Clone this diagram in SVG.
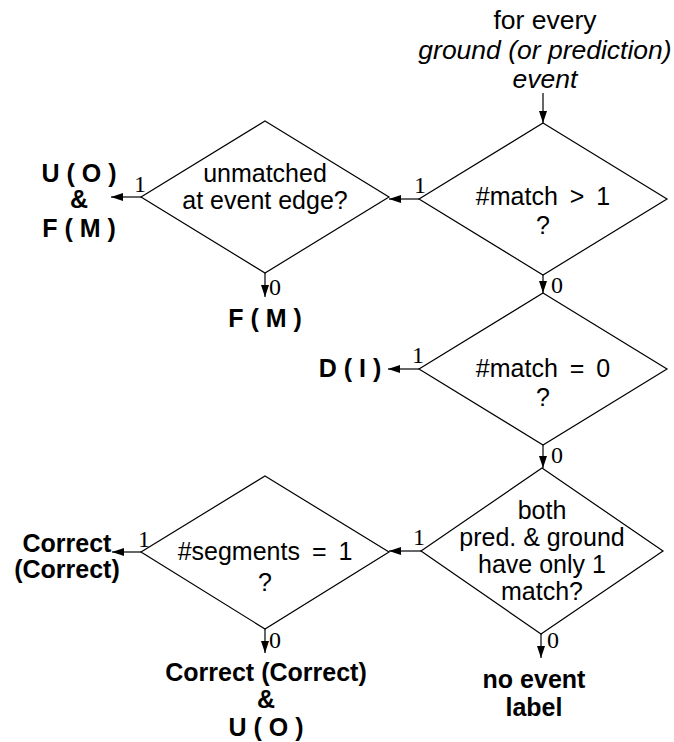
<svg xmlns="http://www.w3.org/2000/svg" width="674" height="742" viewBox="0 0 674 742">
  <style>
    .shape { fill: #fff; stroke: #000; stroke-width: 1.2; }
    .q { font-family: "Liberation Sans", Arial, sans-serif; font-size: 25px; text-anchor: middle; fill: #000; }
    .wide { word-spacing: 5px; }
    .out { font-family: "Liberation Sans", Arial, sans-serif; font-size: 25px; font-weight: bold; text-anchor: middle; fill: #000; }
    .head { font-family: "Liberation Sans", Arial, sans-serif; font-size: 26.5px; text-anchor: middle; fill: #000; }
    .bit { font-family: "Liberation Serif", "Times New Roman", serif; font-size: 24px; text-anchor: middle; fill: #000; }
    .edge { stroke: #000; stroke-width: 1.2; fill: none; marker-end: url(#tip); }
  </style>
  <defs>
    <marker id="tip" viewBox="0 0 12 8" refX="12" refY="4" markerWidth="12" markerHeight="8" markerUnits="userSpaceOnUse" orient="auto">
      <path d="M0,0 L12,4 L0,8 Z" fill="#000"/>
    </marker>
  </defs>

  <!-- entry caption -->
  <g id="start">
    <text class="head" x="545" y="29">for every</text>
    <text class="head" x="545" y="59" font-style="italic">ground (or prediction)</text>
    <text class="head" x="545" y="88" font-style="italic">event</text>
  </g>

  <!-- decisions -->
  <g id="match-gt-1">
    <polygon class="shape" points="543,123 667,199 543,275 419,199"/>
    <text class="q wide" x="543" y="205">#match &gt; 1</text>
    <text class="q" x="543" y="234">?</text>
  </g>

  <g id="edge-check">
    <polygon class="shape" points="265,121 389,197 265,273 141,197"/>
    <text class="q" x="265" y="182">unmatched</text>
    <text class="q" x="265" y="209">at event edge?</text>
  </g>

  <g id="match-eq-0">
    <polygon class="shape" points="543,293 667,369 543,445 419,369"/>
    <text class="q wide" x="543" y="377">#match = 0</text>
    <text class="q" x="543" y="406">?</text>
  </g>

  <g id="single-match">
    <polygon class="shape" points="542,468 663,551 541,634 421,551"/>
    <text class="q" x="542" y="519">both</text>
    <text class="q" x="542" y="546">pred. &amp; ground</text>
    <text class="q" x="542" y="573">have only 1</text>
    <text class="q" x="542" y="600">match?</text>
  </g>

  <g id="segments-eq-1">
    <polygon class="shape" points="265,476 389,552 265,629 141,552"/>
    <text class="q wide" x="265" y="560">#segments = 1</text>
    <text class="q" x="265" y="591">?</text>
  </g>

  <!-- outcomes -->
  <g id="out-uo-fm">
    <text class="out" x="79" y="182">U ( O )</text>
    <text class="out" x="79" y="208">&amp;</text>
    <text class="out" x="79" y="237">F ( M )</text>
  </g>
  <g id="out-fm">
    <text class="out" x="265" y="327">F ( M )</text>
  </g>
  <g id="out-di">
    <text class="out" x="350" y="377">D ( I )</text>
  </g>
  <g id="out-correct">
    <text class="out" x="67" y="552">Correct</text>
    <text class="out" x="67" y="578">(Correct)</text>
  </g>
  <g id="out-correct-uo">
    <text class="out" x="266" y="681">Correct (Correct)</text>
    <text class="out" x="266" y="708">&amp;</text>
    <text class="out" x="266" y="736">U ( O )</text>
  </g>
  <g id="out-none">
    <text class="out" x="534" y="688">no event</text>
    <text class="out" x="534" y="716">label</text>
  </g>

  <!-- connectors -->
  <g id="connectors">
    <line class="edge" x1="543" y1="93" x2="543" y2="123"/>
    <line class="edge" x1="419" y1="199" x2="389" y2="199"/>
    <line class="edge" x1="141" y1="197" x2="111" y2="197"/>
    <line class="edge" x1="265" y1="273" x2="265" y2="297"/>
    <line class="edge" x1="543" y1="275" x2="543" y2="293"/>
    <line class="edge" x1="419" y1="369" x2="388" y2="369"/>
    <line class="edge" x1="543" y1="445" x2="543" y2="468"/>
    <line class="edge" x1="421" y1="551" x2="389" y2="551"/>
    <line class="edge" x1="141" y1="552" x2="112" y2="552"/>
    <line class="edge" x1="265" y1="629" x2="265" y2="653"/>
    <line class="edge" x1="541" y1="634" x2="541" y2="658"/>
  </g>

  <!-- branch values -->
  <g id="branch-labels">
    <text class="bit" x="420" y="193">1</text>
    <text class="bit" x="140" y="192">1</text>
    <text class="bit" x="275" y="295">0</text>
    <text class="bit" x="557" y="293">0</text>
    <text class="bit" x="418" y="363">1</text>
    <text class="bit" x="557" y="463">0</text>
    <text class="bit" x="419" y="545">1</text>
    <text class="bit" x="144" y="547">1</text>
    <text class="bit" x="275" y="648">0</text>
    <text class="bit" x="553" y="648">0</text>
  </g>
</svg>
